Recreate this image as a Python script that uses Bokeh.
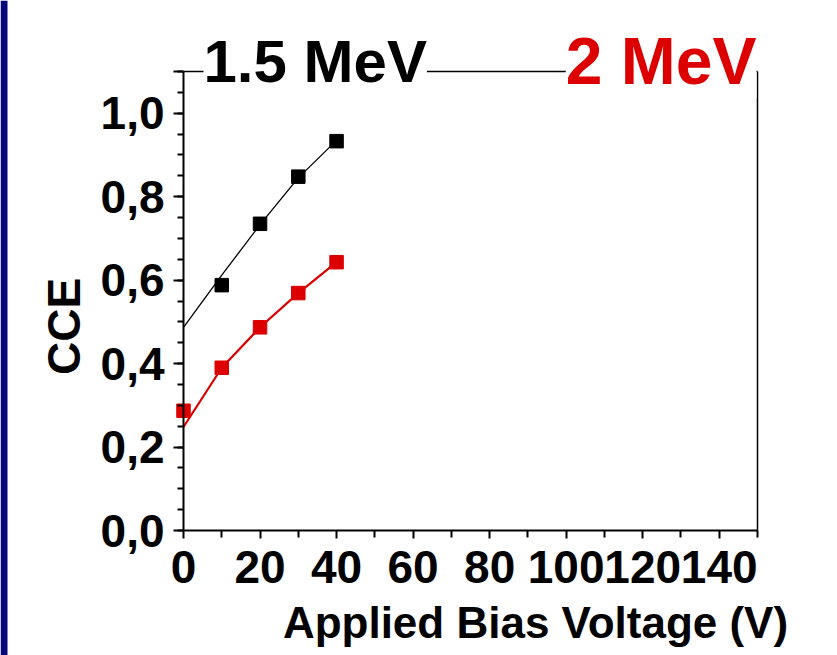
import math

from bokeh.embed import file_html
from bokeh.models import (BoxAnnotation, CustomJSTickFormatter, FixedTicker,
                          Label, LinearAxis, Range1d)
from bokeh.plotting import figure
from bokeh.resources import INLINE

# Charge collection efficiency vs. applied bias, two proton energies
bias_15 = [10, 20, 30, 40]
cce_15 = [0.588, 0.735, 0.848, 0.933]
fit_bias_15 = [0, 10, 20, 30, 40]
fit_cce_15 = [0.487, 0.612, 0.733, 0.845, 0.935]

bias_2 = [0, 10, 20, 30, 40]
cce_2 = [0.287, 0.390, 0.487, 0.569, 0.643]
fit_bias_2 = [0, 10, 20, 30, 40]
fit_cce_2 = [0.248, 0.390, 0.487, 0.569, 0.643]

x_major = [0, 20, 40, 60, 80, 100, 120, 140]
x_minor = [10, 30, 50, 70, 90, 110, 130, 150]
y_major = [0.0, 0.2, 0.4, 0.6, 0.8, 1.0, 1.1]
y_minor = [round(0.05 * i, 2) for i in range(23)]

X_MAX = 150
Y_MAX = 1.1

FONT = "Liberation Sans"
RED = "#dd0000"

W, H = 837, 655
# canvas pixel positions of the data box corners
PX_LEFT, PX_RIGHT, PX_TOP, PX_BOTTOM = 183, 757, 71, 530
kx = (PX_RIGHT - PX_LEFT) / X_MAX
ky = (PX_BOTTOM - PX_TOP) / Y_MAX


def data_x(px):
    return (px - PX_LEFT) / kx


def data_y(py):
    return (PX_BOTTOM - py) / ky


# the frame fills the whole canvas; the axes are pinned at the data origin
p = figure(width=W, height=H, output_backend="svg", toolbar_location=None,
           x_range=Range1d(-PX_LEFT / kx, X_MAX + (W - PX_RIGHT) / kx),
           y_range=Range1d(-(H - PX_BOTTOM) / ky, Y_MAX + PX_TOP / ky),
           x_axis_location=None, y_axis_location=None,
           min_border=0, min_border_left=0, min_border_right=0,
           min_border_top=0, min_border_bottom=0,
           background_fill_color="white", border_fill_color="white")
p.outline_line_color = None
p.xgrid.visible = False
p.ygrid.visible = False


def style_axis(ax):
    ax.axis_line_width = 2
    ax.major_tick_line_width = 2
    ax.minor_tick_line_width = 2
    ax.major_tick_in = 0
    ax.minor_tick_in = 0
    ax.major_label_text_font = FONT
    ax.major_label_text_font_style = "bold"
    ax.major_label_text_color = "black"


xa = LinearAxis(fixed_location=0, bounds=(0, X_MAX),
                ticker=FixedTicker(ticks=x_major, minor_ticks=x_minor))
style_axis(xa)
xa.major_tick_out = 8
xa.minor_tick_out = 7
xa.major_label_text_font_size = "46px"
xa.major_label_standoff = 12
p.add_layout(xa, "below")

ya = LinearAxis(fixed_location=0, bounds=(0, Y_MAX),
                ticker=FixedTicker(ticks=y_major, minor_ticks=y_minor))
style_axis(ya)
ya.major_tick_out = 10
ya.minor_tick_out = 6
ya.major_label_text_font_size = "46px"
ya.major_label_standoff = 9
ya.formatter = CustomJSTickFormatter(
    code="return Math.abs(tick - 1.1) < 1e-9 ? '' : tick.toFixed(1).replace('.', ',')")
p.add_layout(ya, "left")

# plain top and right edges of the box
for side, loc, bnds in (("above", Y_MAX, (0, X_MAX)), ("right", X_MAX, (0, Y_MAX))):
    edge = LinearAxis(fixed_location=loc, bounds=bnds,
                      ticker=FixedTicker(ticks=[], minor_ticks=[]))
    edge.axis_line_width = 1.5
    edge.major_tick_out = 0
    edge.minor_tick_out = 0
    edge.major_label_text_font_size = "0px"
    p.add_layout(edge, side)

# fitted curves under the measured points
p.line(fit_bias_15, fit_cce_15, line_color="black", line_width=1.3)
p.line(fit_bias_2, fit_cce_2, line_color=RED, line_width=2.2)
p.scatter(bias_15, cce_15, marker="square", size=13.5,
          fill_color="black", line_color="black")
p.scatter(bias_2, cce_2, marker="square", size=13.5,
          fill_color=RED, line_color=RED)

# series names sitting on the top edge of the box
p.add_layout(Label(x=data_x(203), y=data_y(61),
                   text="1.5 MeV", text_font=FONT, text_font_style="bold",
                   text_font_size="60px", text_color="black",
                   text_align="left", text_baseline="middle",
                   background_fill_color="white"))
p.add_layout(Label(x=X_MAX - 1 / kx, y=data_y(60),
                   text="2 MeV", text_font=FONT, text_font_style="bold",
                   text_font_size="66px", text_color=RED,
                   text_align="right", text_baseline="middle",
                   background_fill_color="white"))

# axis titles
p.add_layout(Label(x=data_x(63), y=data_y(326),
                   text="CCE", angle=math.pi / 2, text_font=FONT,
                   text_font_style="bold", text_font_size="46px",
                   text_color="black",
                   text_align="center", text_baseline="middle"))
p.add_layout(Label(x=data_x(535), y=data_y(622),
                   text="Applied Bias Voltage (V)", text_font=FONT,
                   text_font_style="bold", text_font_size="44px",
                   text_color="black",
                   text_align="center", text_baseline="middle"))

# slide edge on the left
p.add_layout(BoxAnnotation(left=0, right=7, left_units="screen", right_units="screen",
                           fill_color="#08087a", fill_alpha=1.0, line_color=None))

open("out.html", "w").write(file_html(p, INLINE))
